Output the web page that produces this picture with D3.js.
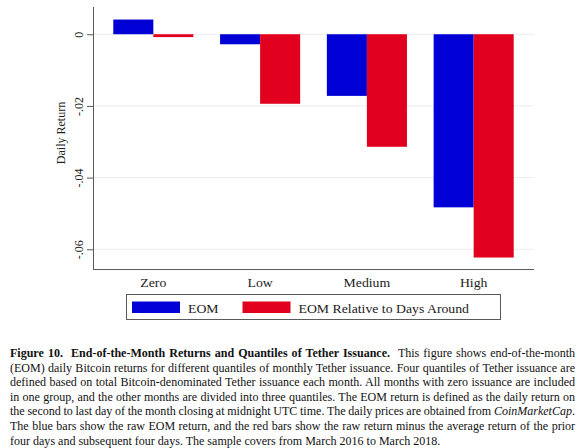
<!DOCTYPE html>
<html>
<head>
<meta charset="utf-8">
<script src="https://cdn.jsdelivr.net/npm/d3@7"></script>
<style>
  html, body { margin: 0; padding: 0; background: #fff; }
  svg { display: block; }
  text { font-family: "Liberation Serif", "Times New Roman", serif; }
</style>
</head>
<body>
<svg id="chart" width="580" height="448"></svg>
<script>
// ---- data ----
const categories = ["Zero", "Low", "Medium", "High"];
const seriesNames = ["EOM", "EOM Relative to Days Around"];
const eomValues = [0.0041, -0.0028, -0.0172, -0.0483];
const relValues = [-0.0008, -0.0194, -0.0314, -0.0623];
const yTickValues = [0, -0.02, -0.04, -0.06];
const yTickLabels = ["0", "-.02", "-.04", "-.06"];
const yLabel = "Daily Return";
const captionLines = [
  [{t: "Figure 10.  End-of-the-Month Returns and Quantiles of Tether Issuance.", w: "bold"}, {t: "  This figure shows end-of-the-month"}],
  [{t: "(EOM) daily Bitcoin returns for different quantiles of monthly Tether issuance. Four quantiles of Tether issuance are"}],
  [{t: "defined based on total Bitcoin-denominated Tether issuance each month. All months with zero issuance are included"}],
  [{t: "in one group, and the other months are divided into three quantiles. The EOM return is defined as the daily return on"}],
  [{t: "the second to last day of the month closing at midnight UTC time. The daily prices are obtained from "}, {t: "CoinMarketCap", s: "italic"}, {t: "."}],
  [{t: "The blue bars show the raw EOM return, and the red bars show the raw return minus the average return of the prior"}],
  [{t: "four days and subsequent four days. The sample covers from March 2016 to March 2018."}]
];

const colors = ["#0000d6", "#e2001f"];
const SX = 1.12; // horizontal stretch of the original picture
const svg = d3.select("#chart");

const plot = {left: 93, right: 534, top: 7, bottom: 269};

const x = d3.scaleBand().domain(categories).range([plot.left, plot.right])
  .paddingInner(0.25).paddingOuter(0.19);
const xSub = d3.scaleBand().domain([0, 1]).range([0, x.bandwidth()]);
const y = d3.scaleLinear().domain([0.0076, -0.0655]).range([plot.top, plot.bottom]);

// gridlines
svg.append("g").selectAll("line").data(yTickValues).join("line")
  .attr("x1", plot.left).attr("x2", plot.right)
  .attr("y1", d => y(d)).attr("y2", d => y(d))
  .attr("stroke", "#ececec").attr("stroke-width", 1);

// bars
const rows = categories.map((c, i) => ({cat: c, vals: [eomValues[i], relValues[i]]}));
const g = svg.append("g").selectAll("g").data(rows).join("g")
  .attr("transform", d => `translate(${x(d.cat)},0)`);
g.selectAll("rect").data(d => d.vals.map((v, k) => ({v, k}))).join("rect")
  .attr("x", d => xSub(d.k))
  .attr("width", xSub.bandwidth())
  .attr("y", d => y(Math.max(0, d.v)))
  .attr("height", d => Math.abs(y(d.v) - y(0)))
  .attr("fill", d => colors[d.k]);

// y axis
const yAxis = d3.axisLeft(y).tickValues(yTickValues).tickSize(6).tickFormat((d, i) => yTickLabels[i]);
const ya = svg.append("g").attr("transform", `translate(${plot.left},0)`).call(yAxis);
ya.select(".domain").attr("d", `M0.5,${plot.top}V${plot.bottom}`).attr("stroke", "#5a5a5a");
ya.selectAll(".tick line").attr("stroke", "#5a5a5a");
ya.selectAll(".tick text")
  .attr("transform", "rotate(-90) scale(1,1.06)")
  .attr("x", 0).attr("y", -9.5).attr("dy", 0)
  .attr("text-anchor", "middle")
  .attr("font-size", "12px")
  .attr("font-family", "Liberation Serif")
  .attr("fill", "#222");

// x axis
const xAxis = d3.axisBottom(x).tickSize(0).tickPadding(0);
const xa = svg.append("g").attr("transform", `translate(0,${plot.bottom})`).call(xAxis);
xa.select(".domain").attr("d", `M${plot.left},0.5H${plot.right}`).attr("stroke", "#5a5a5a");
xa.selectAll(".tick")
  .attr("transform", d => `translate(${x(d) + x.bandwidth() / 2},0)`);
xa.selectAll(".tick text")
  .attr("y", 0).attr("dy", 0)
  .attr("transform", `translate(0,18) scale(${SX},1)`)
  .attr("font-size", "12.3px")
  .attr("font-family", "Liberation Serif")
  .attr("fill", "#222");

// y label
svg.append("text")
  .attr("transform", `translate(64.5,${(plot.top + plot.bottom) / 2 - 5}) rotate(-90) scale(1,1.06)`)
  .attr("text-anchor", "middle")
  .attr("font-size", "12px")
  .attr("fill", "#222")
  .text(yLabel);

// legend
const leg = svg.append("g");
leg.append("rect").attr("x", 126.5).attr("y", 294.5).attr("width", 374).attr("height", 25)
  .attr("fill", "#fff").attr("stroke", "#5a5a5a");
const legX = [132, 242.5];
seriesNames.forEach((n, i) => {
  leg.append("rect").attr("x", legX[i]).attr("y", 301.5).attr("width", 48).attr("height", 11.5)
    .attr("fill", colors[i]);
  leg.append("text").attr("transform", `translate(${legX[i] + 56},312.5) scale(${SX},1)`)
    .attr("font-size", "12.3px").attr("fill", "#222").text(n);
});

// caption (justified)
const capLeft = 10, capRight = 575, capTop = 357, lineH = 14.6, lastW = 431;
const capG = svg.append("g");
const capTexts = captionLines.map((parts, li) => {
  const t = capG.append("text").attr("x", 0).attr("y", 0)
    .attr("font-size", "12px").attr("fill", "#111")
    .style("white-space", "pre");
  parts.forEach(p => {
    const ts = t.append("tspan").text(p.t);
    if (p.w) ts.attr("font-weight", p.w);
    if (p.s) ts.attr("font-style", p.s);
  });
  return t;
});
const sx = lastW / capTexts[capTexts.length - 1].node().getComputedTextLength();
capTexts.forEach((t, li) => {
  t.attr("transform", `translate(${capLeft},${capTop + li * lineH}) scale(${sx},1)`);
  if (li < capTexts.length - 1) {
    const natural = t.node().getComputedTextLength();
    const full = captionLines[li].map(p => p.t).join("");
    const nSpaces = (full.match(/ /g) || []).length;
    const ws = ((capRight - capLeft) / sx - natural) / nSpaces;
    t.attr("word-spacing", ws);
  }
});
</script>
</body>
</html>
